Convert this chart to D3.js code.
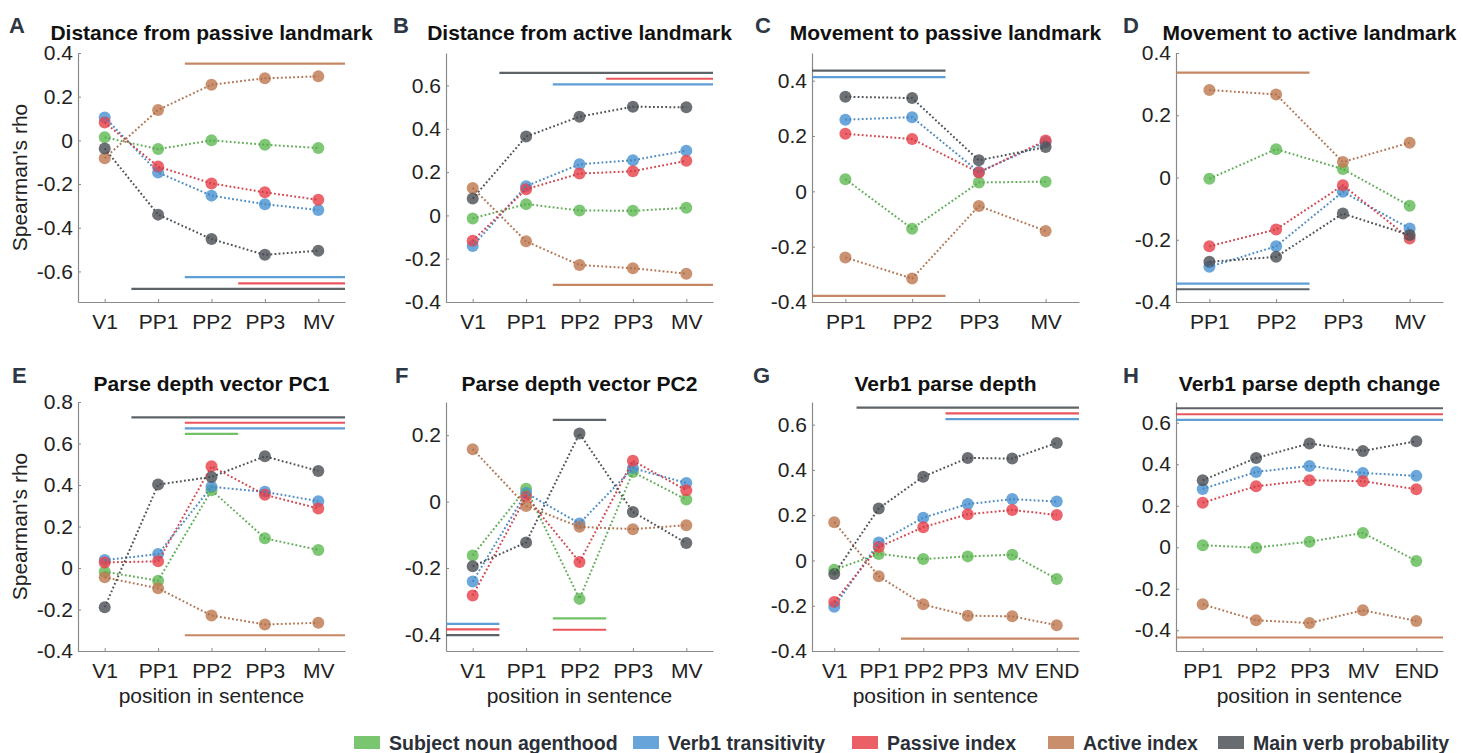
<!DOCTYPE html>
<html><head><meta charset="utf-8">
<script src="https://cdn.jsdelivr.net/npm/d3@7"></script>
<style>
body{margin:0;background:#fff}
text{font-family:"Liberation Sans",Arial,Helvetica,sans-serif}
</style>
</head><body>
<svg id="chart" width="1463" height="753"></svg>
<script>
// ---------- series ----------
const seriesNames = ["Subject noun agenthood","Verb1 transitivity","Passive index","Active index","Main verb probability"];
const seriesColors = ["#62bb57","#4b94d3","#e8434c","#c07a52","#4d5257"];

// ---------- categories ----------
const catsA = ["V1","PP1","PP2","PP3","MV"];
const catsC = ["PP1","PP2","PP3","MV"];
const catsG = ["V1","PP1","PP2","PP3","MV","END"];
const catsH = ["PP1","PP2","PP3","MV","END"];

// ---------- values (rows: agenthood, transitivity, passive, active, main verb) ----------
const valuesA = [
  [0.014,-0.04,0.0,-0.02,-0.035],
  [0.105,-0.147,-0.253,-0.292,-0.319],
  [0.082,-0.12,-0.197,-0.238,-0.272],
  [-0.082,0.139,0.255,0.284,0.293],
  [-0.037,-0.34,-0.452,-0.524,-0.505]
];
const valuesB = [
  [-0.014,0.052,0.023,0.021,0.035],
  [-0.141,0.135,0.236,0.255,0.299],
  [-0.117,0.121,0.193,0.204,0.252],
  [0.127,-0.12,-0.229,-0.244,-0.269],
  [0.078,0.364,0.456,0.502,0.499]
];
const valuesC = [
  [0.044,-0.135,0.032,0.035],
  [0.259,0.268,0.07,0.178],
  [0.208,0.189,0.068,0.184],
  [-0.239,-0.315,-0.053,-0.143],
  [0.342,0.337,0.112,0.16]
];
const valuesD = [
  [-0.004,0.091,0.027,-0.091],
  [-0.287,-0.221,-0.046,-0.164],
  [-0.221,-0.167,-0.025,-0.196],
  [0.281,0.267,0.05,0.112],
  [-0.271,-0.255,-0.116,-0.185]
];
const valuesE = [
  [-0.018,-0.061,0.375,0.143,0.087],
  [0.038,0.067,0.391,0.367,0.322],
  [0.027,0.032,0.49,0.353,0.287],
  [-0.045,-0.098,-0.229,-0.272,-0.264],
  [-0.189,0.402,0.439,0.538,0.468]
];
const valuesF = [
  [-0.162,0.039,-0.293,0.089,0.006],
  [-0.241,0.026,-0.066,0.101,0.056],
  [-0.283,0.015,-0.182,0.123,0.034],
  [0.158,-0.013,-0.076,-0.083,-0.071],
  [-0.195,-0.123,0.205,-0.031,-0.125]
];
const valuesG = [
  [-0.041,0.029,0.006,0.018,0.025,-0.082],
  [-0.205,0.079,0.189,0.249,0.271,0.26],
  [-0.183,0.059,0.147,0.204,0.223,0.201],
  [0.169,-0.07,-0.194,-0.244,-0.247,-0.286],
  [-0.06,0.23,0.37,0.453,0.45,0.519]
];
const valuesH = [
  [0.01,-0.002,0.027,0.069,-0.066],
  [0.281,0.363,0.392,0.358,0.344],
  [0.215,0.294,0.323,0.318,0.28],
  [-0.275,-0.352,-0.365,-0.304,-0.355],
  [0.323,0.43,0.5,0.464,0.511]
];

// ---------- significance bars: [series index, rho level, from, to] (x in category units, 1-based) ----------
const sigA = [[3,0.351,2.5,5.5],[1,-0.626,2.5,5.5],[2,-0.655,3.5,5.5],[4,-0.68,1.5,5.5]];
const sigB = [[4,0.658,1.5,5.5],[2,0.631,3.5,5.5],[1,0.605,2.5,5.5],[3,-0.321,2.5,5.5]];
const sigC = [[4,0.436,0.5,2.5],[1,0.413,0.5,2.5],[3,-0.378,0.5,2.5]];
const sigD = [[3,0.337,0.5,2.5],[1,-0.341,0.5,2.5],[4,-0.359,0.5,2.5]];
const sigE = [[4,0.726,1.5,5.5],[2,0.70,2.5,5.5],[1,0.673,2.5,5.5],[0,0.646,2.5,3.5],[3,-0.324,2.5,5.5]];
const sigF = [[4,0.246,2.5,3.5],[0,-0.352,2.5,3.5],[2,-0.386,2.5,3.5],[1,-0.368,0.5,1.5],[2,-0.385,0.5,1.5],[4,-0.402,0.5,1.5]];
const sigG = [[4,0.675,1.5,6.5],[2,0.65,3.5,6.5],[1,0.624,3.5,6.5],[3,-0.345,2.5,6.5]];
const sigH = [[4,0.67,0.5,5.5],[2,0.641,0.5,5.5],[1,0.614,0.5,5.5],[3,-0.435,0.5,5.5]];

// ---------- y axis ranges and ticks ----------
const yDomA = [-0.74,0.4], yTicksA = [-0.6,-0.4,-0.2,0,0.2,0.4];
const yDomB = [-0.4,0.75], yTicksB = [-0.4,-0.2,0,0.2,0.4,0.6];
const yDomC = [-0.4,0.5],  yTicksC = [-0.4,-0.2,0,0.2,0.4];
const yDomD = [-0.4,0.4],  yTicksD = [-0.4,-0.2,0,0.2,0.4];
const yDomE = [-0.4,0.8],  yTicksE = [-0.4,-0.2,0,0.2,0.4,0.6,0.8];
const yDomF = [-0.45,0.3], yTicksF = [-0.4,-0.2,0,0.2];
const yDomG = [-0.4,0.7],  yTicksG = [-0.4,-0.2,0,0.2,0.4,0.6];
const yDomH = [-0.5,0.7],  yTicksH = [-0.4,-0.2,0,0.2,0.4,0.6];

const titles = ["Distance from passive landmark","Distance from active landmark","Movement to passive landmark","Movement to active landmark",
                "Parse depth vector PC1","Parse depth vector PC2","Verb1 parse depth","Verb1 parse depth change"];
const letters = ["A","B","C","D","E","F","G","H"];

// ---------- layout ----------
const lefts = [78,446,812,1176];
const tops = [53,402];
const W = 267, H = 249;
const letterX = [9,393,755,1123, 12,395,753,1123];
const legendX = [354,633,852,1048,1218];

const panels = [
  {cats:catsA, vals:valuesA, sig:sigA, dom:yDomA, ticks:yTicksA},
  {cats:catsA, vals:valuesB, sig:sigB, dom:yDomB, ticks:yTicksB},
  {cats:catsC, vals:valuesC, sig:sigC, dom:yDomC, ticks:yTicksC},
  {cats:catsC, vals:valuesD, sig:sigD, dom:yDomD, ticks:yTicksD},
  {cats:catsA, vals:valuesE, sig:sigE, dom:yDomE, ticks:yTicksE},
  {cats:catsA, vals:valuesF, sig:sigF, dom:yDomF, ticks:yTicksF},
  {cats:catsG, vals:valuesG, sig:sigG, dom:yDomG, ticks:yTicksG},
  {cats:catsH, vals:valuesH, sig:sigH, dom:yDomH, ticks:yTicksH}
];

const svg = d3.select("#chart");
const fmt = d => d === 0 ? "0" : (d < 0 ? "-" : "") + Math.abs(d).toFixed(1);
const axisColor = "#8a8a8a", textColor = "#222";

panels.forEach((p, i) => {
  const row = Math.floor(i / 4), col = i % 4;
  const x0 = lefts[col], y0 = tops[row];
  const x = d3.scaleLinear().domain([0.5, p.cats.length + 0.5]).range([x0, x0 + W]);
  const y = d3.scaleLinear().domain(p.dom).range([y0 + H, y0]);
  const g = svg.append("g");

  // axes
  const ax = g.append("g").attr("transform", `translate(0,${y0 + H})`)
    .call(d3.axisBottom(x).tickValues(d3.range(1, p.cats.length + 1))
      .tickFormat(d => p.cats[d - 1]).tickSizeInner(-3).tickSizeOuter(0).tickPadding(12));
  const ay = g.append("g").attr("transform", `translate(${x0},0)`)
    .call(d3.axisLeft(y).tickValues(p.ticks).tickFormat(fmt).tickSizeInner(-3).tickSizeOuter(0).tickPadding(5));
  [ax, ay].forEach(a => {
    a.select(".domain").attr("stroke", axisColor).attr("stroke-width", 1.2);
    a.selectAll(".tick line").attr("stroke", axisColor);
    a.selectAll(".tick text").attr("fill", textColor).style("font-size", "21px");
  });

  // significance bars
  g.selectAll("line.sig").data(p.sig).join("line").attr("class", "sig")
    .attr("x1", d => x(d[2])).attr("x2", d => x(d[3]))
    .attr("y1", d => y(d[1])).attr("y2", d => y(d[1]))
    .attr("stroke", d => seriesColors[d[0]]).attr("stroke-width", 2.2).attr("stroke-opacity", 0.9);

  // series
  const line = d3.line().x((d, k) => x(k + 1)).y(d => y(d));
  p.vals.forEach((vals, s) => {
    g.append("g").selectAll("circle").data(vals).join("circle")
      .attr("cx", (d, k) => x(k + 1)).attr("cy", d => y(d)).attr("r", 6)
      .attr("fill", seriesColors[s]).attr("fill-opacity", 0.82);
  });
  p.vals.forEach((vals, s) => {
    g.append("path").datum(vals).attr("d", line)
      .attr("fill", "none").attr("stroke-width", 2)
      .attr("stroke-dasharray", "1.8,2.3").attr("stroke-opacity", 0.95)
      .attr("stroke", d3.color(seriesColors[s]).darker(0.3));
  });

  // title
  g.append("text").attr("x", x0 + W / 2).attr("y", row === 0 ? 40 : 391)
    .attr("text-anchor", "middle").style("font-weight", "bold").style("font-size", "21px")
    .attr("fill", "#111").text(titles[i]);
  // letter
  g.append("text").attr("x", letterX[i]).attr("y", row === 0 ? 33 : 383)
    .style("font-weight", "bold").style("font-size", "22px").attr("fill", "#2e3844").text(letters[i]);
  // y label
  if (col === 0) {
    g.append("text").attr("transform", `translate(27,${y0 + H / 2}) rotate(-90)`)
      .attr("text-anchor", "middle").style("font-size", "21px").attr("fill", textColor).text("Spearman's rho");
  }
  if (row === 1) {
    g.append("text").attr("x", x0 + W / 2).attr("y", 703).attr("text-anchor", "middle")
      .style("font-size", "21px").attr("fill", textColor).text("position in sentence");
  }
});

// legend
const leg = svg.append("g");
seriesNames.forEach((n, s) => {
  leg.append("rect").attr("x", legendX[s]).attr("y", 736).attr("width", 26).attr("height", 13)
    .attr("fill", seriesColors[s]).attr("fill-opacity", 0.85);
  leg.append("text").attr("x", legendX[s] + 35).attr("y", 750)
    .style("font-weight", "bold").style("font-size", "19.5px").attr("fill", "#2b3038").text(n);
});
</script>
</body></html>
